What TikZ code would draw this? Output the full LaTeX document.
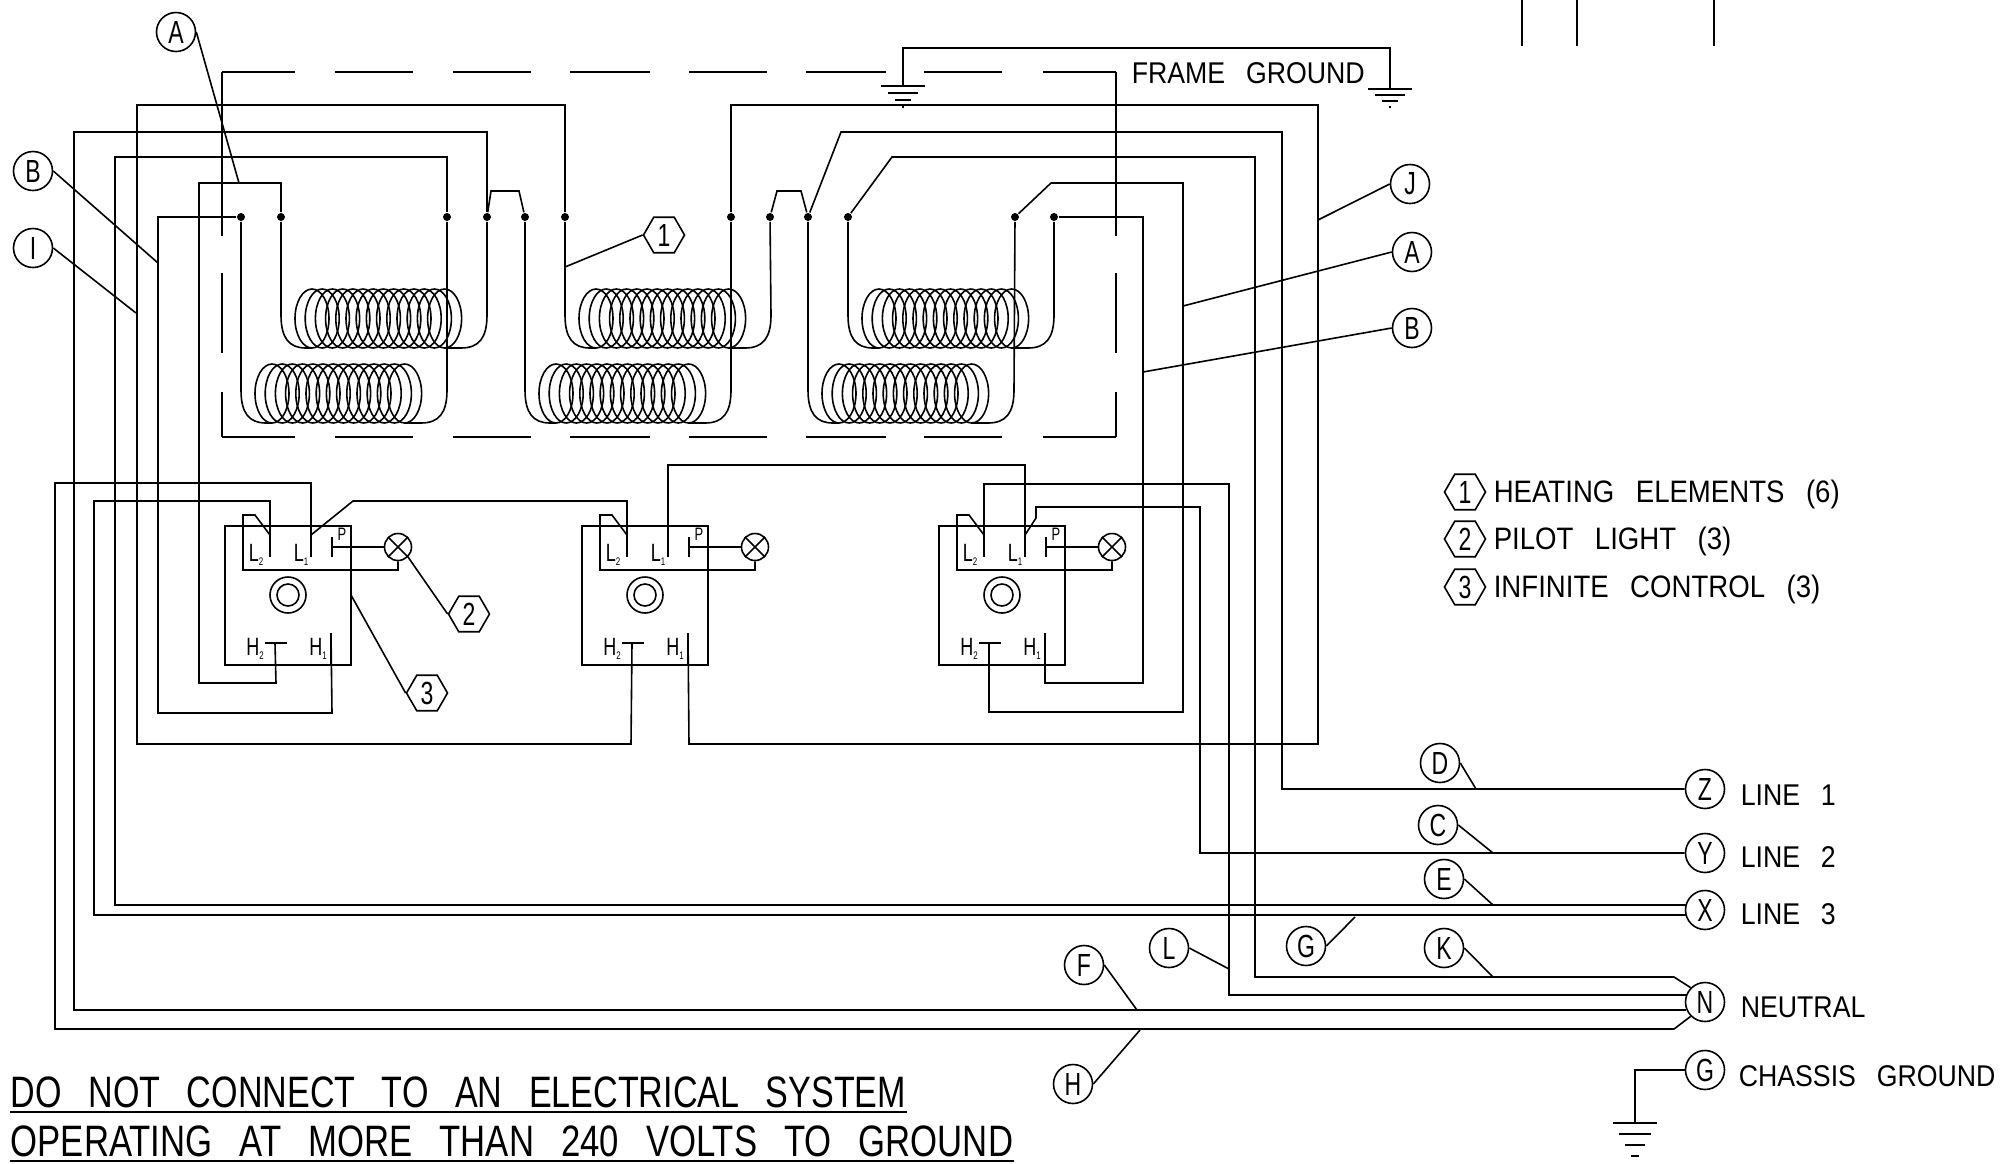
\documentclass[tikz,border=0pt]{standalone}
\usepackage{fontspec}
\setmainfont[FakeStretch=0.89,WordSpace=2.8]{Liberation Sans}
\newfontfamily\tagfont[FakeStretch=0.72]{Liberation Sans}
\newfontfamily\warnfont[FakeStretch=0.785,WordSpace=2.8]{Liberation Sans}
\usepackage{tikz}
\usetikzlibrary{shapes.geometric}

% one infinite control: name, left edge of its box
\newcommand{\infctrl}[2]{
	\begin{scope}[shift={(#2,0)}]
		\node[ctrlbox] (#1) at (63,595.5) {};
		\coordinate (#1l2) at (45,535);
		\coordinate (#1l1) at (86,535);
		\coordinate (#1h2) at (50,643);
		\coordinate (#1h1) at (106,633);
		\coordinate (#1jog) at (18,570);
		\node[lamp] (#1lamp) at (173,547) {};
		\node[circle,draw,minimum size=36] (#1knob) at (63,595) {};
		\node[circle,draw,minimum size=22] (#1cap) at (63,595) {};
		\node[term] (#1tl2) at (31,555) {L\raisebox{-4pt}{\fontsize{11}{11}\selectfont 2}};
		\node[term] (#1tl1) at (76,555) {L\raisebox{-4pt}{\fontsize{11}{11}\selectfont 1}};
		\node[term] (#1th2) at (30,649) {H\raisebox{-4pt}{\fontsize{11}{11}\selectfont 2}};
		\node[term] (#1th1) at (93,649) {H\raisebox{-4pt}{\fontsize{11}{11}\selectfont 1}};
		\node[term,font=\tagfont\fontsize{18}{18}\selectfont] (#1tp) at (117,534) {P};
		\draw[bar] (#1l2) -- +(0,22);
		\draw[bar] (#1l1) -- +(0,22);
		\draw[bar] (107,537) coordinate (#1p) -- +(0,20);
		\draw[bar] (#1h1) -- +(0,32);
		\draw[bar] (40,643) -- (62,643);
		\draw (#1p) ++(0,10) -- (#1lamp);
		\draw (#1lamp.north west) -- (#1lamp.south east);
		\draw (#1lamp.north east) -- (#1lamp.south west);
		\draw (#1l2) -- (30,515) -- (18,515) -- (#1jog) -| (#1lamp);
	\end{scope}
}
% one heating element: x of its left lead, y of its bottom, the two dots it hangs from
\newcommand{\heater}[4]{
	\begin{scope}[shift={(#1,#2)}]
		\foreach \i in {0,...,13}
			\draw (31+\i*10.2,-29.5) ellipse [x radius=17,y radius=29.5];
		\draw (#3) -- (0,-33) .. controls (0,-10) and (8,0) .. (25,0) -- (31,0);
		\draw (#4) -- (206,-33) .. controls (206,-10) and (198,0) .. (180,0) -- (164,0);
	\end{scope}
}
% ground bars: x, y, step down, step in
\newcommand{\groundbars}[4]{
	\foreach \i in {0,...,3}
		\draw[bar] (#1-22+\i*#4,#2+\i*#3) -- (#1+22-\i*#4,#2+\i*#3);
}

\begin{document}
\begin{tikzpicture}[
		x=1pt,y=-1pt,
		line width=1.6pt,
		bar/.style={line width=2.4pt},
		dot/.style={circle,fill,inner sep=0,minimum size=8},
		tag/.style={circle,draw,minimum size=39,inner sep=0,font=\tagfont\fontsize{32}{32}\selectfont},
		hextag/.style={regular polygon,regular polygon sides=6,draw,minimum size=41,inner sep=0,font=\tagfont\fontsize{32}{32}\selectfont},
		label/.style={anchor=west,inner sep=0,font=\fontsize{30}{30}\selectfont},
		legend/.style={anchor=west,inner sep=0,font=\fontsize{31}{31}\selectfont},
		warn/.style={anchor=base west,inner sep=0,font=\warnfont\fontsize{44}{44}\selectfont},
		ctrlbox/.style={rectangle,draw,minimum width=126,minimum height=139,inner sep=0},
		lamp/.style={circle,draw,minimum size=27,inner sep=0},
		term/.style={inner sep=0,font=\tagfont\fontsize{25}{25}\selectfont}]
		\useasboundingbox (0,0) rectangle (2011,1163);

		% frame ground
		\foreach \a/\b in {222/295,335/413,453/531,570/650,689/767,806/886,924/1002,1043/1116} {
			\draw (\a,72) -- (\b,72);
			\draw (\a,437) -- (\b,437);
		}
		\foreach \a/\b in {72/236,273/353,392/437} {
			\draw (222,\a) -- (222,\b);
			\draw (1116,\a) -- (1116,\b);
		}
		\node[label] (frame) at (1131,73) {FRAME GROUND};
		\coordinate (gnda) at (903,86);
		\coordinate (gndb) at (1390,89);
		\draw (gnda) |- (1000,48) -| (gndb);
		\groundbars{903}{86}{7}{7}
		\groundbars{1390}{89}{6}{7}

		% heater terminals
		\node[dot] (t1) at (241,217) {};
		\node[dot] (t2) at (281,217) {};
		\node[dot] (t3) at (447,217) {};
		\node[dot] (t4) at (487,217) {};
		\node[dot] (t5) at (525,217) {};
		\node[dot] (t6) at (565,217) {};
		\node[dot] (t7) at (731,217) {};
		\node[dot] (t8) at (770,217) {};
		\node[dot] (t9) at (808,217) {};
		\node[dot] (t10) at (848,217) {};
		\node[dot] (t11) at (1015,217) {};
		\node[dot] (t12) at (1054,217) {};
		\heater{281}{348}{t2}{t4}
		\heater{241}{423}{t1}{t3}
		\heater{565}{348}{t6}{t8}
		\heater{525}{423}{t5}{t7}
		\heater{848}{348}{t10}{t12}
		\heater{808}{423}{t9}{t11}
		\draw (t4) -- (491,191) -- (519,191) -- (t5);
		\draw (t8) -- (777,191) -- (801,191) -- (t9);

		% controls
		\infctrl{ca}{225}
		\infctrl{cb}{582}
		\infctrl{cc}{939}

		% supply ends
		\node[tag] (z) at (1705,789) {Z};
		\node[tag] (y) at (1705,853) {Y};
		\node[tag] (x) at (1705,910) {X};
		\node[tag] (n) at (1705,1002) {N};
		\node[tag] (g) at (1705,1070) {G};
		\coordinate (xa) at (1686,905);
		\coordinate (xb) at (1686,915);
		\coordinate (na) at (1687,995);
		\coordinate (nb) at (1686,1010);
		\node[label] (line1) at (1740,795) {LINE 1};
		\node[label] (line2) at (1740,857) {LINE 2};
		\node[label] (line3) at (1740,914) {LINE 3};
		\node[label] (neutral) at (1740,1007) {NEUTRAL};
		\node[label] (chassis) at (1738,1076) {CHASSIS GROUND};
		\draw (g) -| (1635,1123);
		\groundbars{1635}{1123}{11}{6}

		% wires, heaters to controls and supply
		\draw (t6) |- (137,105) |- (631,744) -- (cbh2);
		\draw (t4) |- (74,132) |- (nb);
		\draw (t3) |- (115,157) |- (xa);
		\draw (t2) |- (199,183) |- (276,683) -- (cah2);
		\draw (t1) -- (158,217) |- (332,713) -- (cah1);
		\draw (t7) |- (1318,105) |- (689,744) -- (cbh1);
		\draw (t9) -- (841,132) -| (1282,789) -- (z);
		\draw (t10) -- (892,157) -| (1255,977) -- (1674,977) -- (n.north west);
		\draw (t11) -- (1051,183) -| (1183,712) -| (cch2);
		\draw (t12) -| (1143,683) -| (cch1);

		% wires, controls to supply and to each other
		\draw (cal1) |- (55,483) |- (1674,1029) -- (n.south west);
		\draw (cal2) |- (94,501) |- (xb);
		\draw (cal1) -- (353,501) -| (cbl2);
		\draw (cbl1) |- (1025,465) -- (ccl1);
		\draw (ccl1) -- (1036,518) -- (1036,507) -| (1200,853) -- (y);
		\draw (ccl2) |- (1229,484) |- (na);

		% call-outs
		\node[tag] (ta) at (176,32) {A};
		\coordinate (pa) at (239,183);
		\draw (ta.east) -- (pa);
		\node[tag] (tb) at (33,171) {B};
		\coordinate (pb) at (158,263);
		\draw (tb.east) -- (pb);
		\node[tag] (ti) at (33,248) {I};
		\coordinate (pi) at (136,313);
		\draw (ti.east) -- (pi);
		\node[hextag] (h1) at (664,235) {1};
		\coordinate (p1) at (565,267);
		\draw (h1.west) -- (p1);
		\node[tag] (tj) at (1410,184) {J};
		\coordinate (pj) at (1318,220);
		\draw (tj.west) -- (pj);
		\node[tag] (ta2) at (1412,252) {A};
		\coordinate (pa2) at (1183,306);
		\draw (ta2.west) -- (pa2);
		\node[tag] (tb2) at (1412,328) {B};
		\coordinate (pb2) at (1143,372);
		\draw (tb2.west) -- (pb2);
		\node[hextag] (h2) at (469,614) {2};
		\draw (h2.west) -- (calamp.south east);
		\node[hextag] (h3) at (427,693) {3};
		\coordinate (p3) at (351,595);
		\draw (h3.west) -- (p3);
		\node[tag] (td) at (1440,763) {D};
		\coordinate (pd) at (1476,789);
		\draw (td.east) -- (pd);
		\node[tag] (tc) at (1438,825) {C};
		\coordinate (pc) at (1493,853);
		\draw (tc.east) -- (pc);
		\node[tag] (te) at (1444,879) {E};
		\coordinate (pe) at (1493,905);
		\draw (te.east) -- (pe);
		\node[tag] (tk) at (1444,948) {K};
		\coordinate (pk) at (1493,977);
		\draw (tk.east) -- (pk);
		\node[tag] (tg) at (1306,946) {G};
		\coordinate (pg) at (1355,917);
		\draw (tg.east) -- (pg);
		\node[tag] (tl) at (1169,948) {L};
		\coordinate (pl) at (1229,969);
		\draw (tl.east) -- (pl);
		\node[tag] (tf) at (1084,965) {F};
		\coordinate (pf) at (1137,1010);
		\draw (tf.east) -- (pf);
		\node[tag] (th) at (1073,1084) {H};
		\coordinate (ph) at (1140,1030);
		\draw (th.east) -- (ph);

		% legend
		\node[hextag] (l1) at (1465,492) {1};
		\node[hextag] (l2) at (1465,539) {2};
		\node[hextag] (l3) at (1465,587) {3};
		\node[legend] (heating) at (1493,494) {HEATING ELEMENTS (6)};
		\node[legend] (pilot) at (1493,541) {PILOT LIGHT (3)};
		\node[legend] (infinite) at (1493,589) {INFINITE CONTROL (3)};

		% warning
		\node[warn,xscale=0.987] (warna) at (10,1107) {DO NOT CONNECT TO AN ELECTRICAL SYSTEM};
		\node[warn,xscale=1.005] (warnb) at (10,1156) {OPERATING AT MORE THAN 240 VOLTS TO GROUND};
		\draw[bar] ([yshift=-5pt]warna.base west) -- ([yshift=-5pt]warna.base east);
		\draw[bar] ([yshift=-5pt]warnb.base west) -- ([yshift=-5pt]warnb.base east);

		% ticks top right
		\coordinate (ticka) at (1522,0);
		\coordinate (tickb) at (1577,0);
		\coordinate (tickc) at (1714,0);
		\draw (ticka) -- +(0,46);
		\draw (tickb) -- +(0,46);
		\draw (tickc) -- +(0,46);
\end{tikzpicture}
\end{document}
